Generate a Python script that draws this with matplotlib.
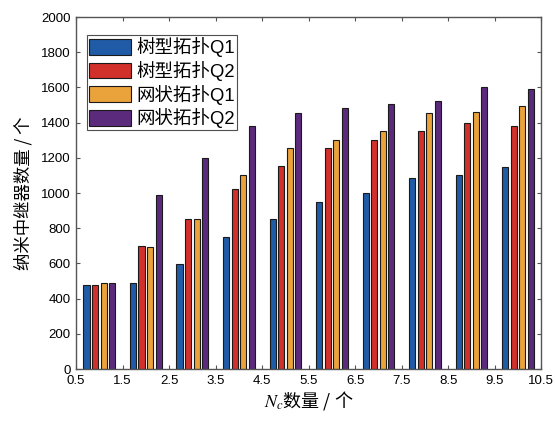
import matplotlib
matplotlib.use("Agg")
import matplotlib.pyplot as plt
import numpy as np

plt.rcParams["mathtext.fontset"] = "stix"

groups = [1, 2, 3, 4, 5, 6, 7, 8, 9, 10]
series_names = ["树型拓扑Q1", "树型拓扑Q2", "网状拓扑Q1", "网状拓扑Q2"]
tree_q1 = [480, 490, 598, 748, 852, 950, 998, 1083, 1101, 1150]
tree_q2 = [480, 700, 852, 1023, 1153, 1254, 1300, 1352, 1400, 1381]
mesh_q1 = [490, 691, 852, 1104, 1254, 1301, 1352, 1452, 1462, 1494]
mesh_q2 = [490, 989, 1200, 1381, 1452, 1481, 1504, 1523, 1600, 1589]
xticks = [0.5, 1.5, 2.5, 3.5, 4.5, 5.5, 6.5, 7.5, 8.5, 9.5, 10.5]
yticks = [0, 200, 400, 600, 800, 1000, 1200, 1400, 1600, 1800, 2000]

colors = ["#1f5ba6", "#d2302b", "#eaa23a", "#5b2a7c"]
cjk = ["Liberation Sans", "Noto Sans CJK SC", "DejaVu Sans"]

fig = plt.figure(figsize=(5.55, 4.21), dpi=100)
ax = fig.add_axes([0.137, 0.1235, 0.838, 0.836])

x = np.array(groups, dtype=float)
offsets = [-0.275, -0.092, 0.092, 0.275]
width = 0.13
for vals, off, c, name in zip([tree_q1, tree_q2, mesh_q1, mesh_q2], offsets, colors, series_names):
    ax.bar(x + off, vals, width=width, color=c, edgecolor="#1a1a1a", linewidth=0.8, label=name)

ax.set_xlim(0.5, 10.5)
ax.set_ylim(0, 2000)
ax.set_xticks(xticks)
ax.set_xticklabels([str(t) for t in xticks], fontsize=9.5, family=cjk)
ax.set_yticks(yticks)
ax.set_yticklabels([str(t) for t in yticks], fontsize=9.5, family=cjk)
ax.tick_params(direction="in", top=True, right=True, length=3, color="#555555", pad=4)
for s in ax.spines.values():
    s.set_color("#555555")
    s.set_linewidth(1.0)

ax.set_ylabel("纳米中继器数量 / 个", fontsize=12.5, family=["Noto Sans CJK SC", "DejaVu Sans"], labelpad=6)
ax.set_xlabel(r"$\mathit{N}_{c}$" + "数量 / 个", fontsize=13, family=["Noto Sans CJK SC", "DejaVu Sans"], labelpad=2)

leg = ax.legend(loc="upper left", bbox_to_anchor=(0.023, 0.949), prop={"family": cjk, "size": 13.3},
                frameon=True, fancybox=False, edgecolor="#222222", handlelength=2.3, handleheight=0.95,
                labelspacing=0.2, borderpad=0.12, handletextpad=0.25, borderaxespad=0.0)
leg.get_frame().set_linewidth(0.8)

fig.savefig("out.png", dpi=100)
